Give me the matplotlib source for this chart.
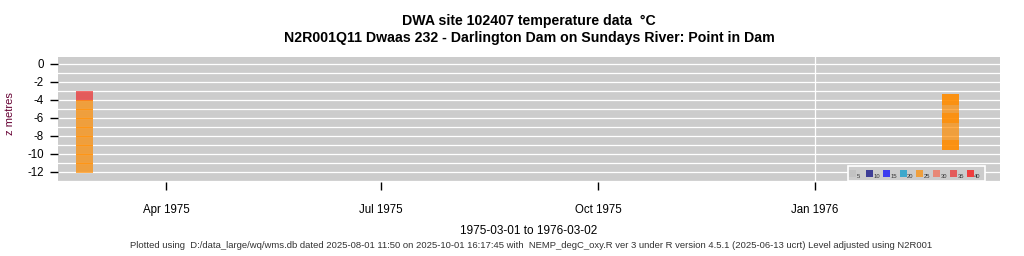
import numpy as np
import matplotlib
matplotlib.use("Agg")
import matplotlib.pyplot as plt
import matplotlib.dates as mdates
from matplotlib.patches import Rectangle
import datetime as dt

# ---------------- data ----------------
sample_dates = ["1975-03-01"] * 9 + ["1976-03-02"] * 6
layer_top = [-3.03, -4.03, -5.03, -6.03, -7.03, -8.03, -9.03, -10.03, -11.03,
             -3.4, -3.4, -5.45, -5.45, -8.45, -8.45]
layer_bottom = [-4.18, -5.18, -6.18, -7.18, -8.18, -9.18, -10.18, -11.18, -12.18,
                -5.45, -4.55, -6.55, -8.45, -9.6, -9.6]
temperature = [31, 24, 24, 24, 24, 24, 24, 24, 24,
               24, 24, 24, 24, 24, 24]

class_labels = ["5", "10", "15", "20", "25", "30", "35", "40"]
class_upper = [5, 10, 15, 20, 25, 30, 35, 40]
class_colors = ["#BEBEBE", "#000080", "#0000FF", "#009ACD",
                "#FF8C00", "#F46B54", "#EE2C2C", "#FF0000"]

y_ticks = [0, -2, -4, -6, -8, -10, -12]
x_tick_dates = ["1975-04-01", "1975-07-01", "1975-10-01", "1976-01-01"]
x_tick_labels = ["Apr 1975", "Jul 1975", "Oct 1975", "Jan 1976"]
year_lines = ["1976-01-01"]

title1 = "DWA site 102407 temperature data  \u00b0C"
title2 = "N2R001Q11 Dwaas 232 - Darlington Dam on Sundays River: Point in Dam"
subtitle = "1975-03-01 to 1976-03-02"
footer = ("Plotted using  D:/data_large/wq/wms.db dated 2025-08-01 11:50 on 2025-10-01 16:17:45 with  "
          "NEMP_degC_oxy.R ver 3 under R version 4.5.1 (2025-06-13 ucrt) Level adjusted using N2R001")

# ---------------- plot ----------------
plt.rcParams['font.family'] = ['Liberation Sans', 'DejaVu Sans']
fig = plt.figure(figsize=(10.24, 2.56), dpi=100)
ax = fig.add_axes([58 / 1024, 1 - 182 / 256, 942 / 1024, 125.3 / 256])
ax.set_facecolor("#CCCCCC")
for s in ax.spines.values():
    s.set_visible(False)

x0 = mdates.date2num(dt.datetime(1975, 2, 14))
x1 = mdates.date2num(dt.datetime(1976, 3, 19, 12))
ax.set_xlim(x0, x1)
ax.set_ylim(-13.15, 0.8)

for yv in range(0, -14, -1):
    ax.axhline(yv, color="white", lw=0.9, zorder=1)
for d in year_lines:
    ax.axvline(mdates.datestr2num(d), color="white", lw=0.9, zorder=1)

cell_days = 7.3
for d, top, bot, t in zip(sample_dates, layer_top, layer_bottom, temperature):
    idx = min(int(np.searchsorted(class_upper, t)), len(class_colors) - 1)
    xe = mdates.datestr2num(d)
    ax.add_patch(Rectangle((xe - cell_days, bot), cell_days, top - bot,
                           facecolor=class_colors[idx], alpha=0.7,
                           edgecolor="none", zorder=2))

ax.set_yticks(y_ticks)
ax.set_yticklabels([str(v) for v in y_ticks], fontsize=8.3)
ax.set_xticks([mdates.datestr2num(d) for d in x_tick_dates])
ax.set_xticklabels(x_tick_labels, fontsize=8.3)
ax.tick_params(axis="both", length=6, width=1, color="black")
ax.tick_params(axis="x", pad=10)
ax.tick_params(axis="y", pad=4)
ax.set_ylabel("z metres", fontsize=8, color="#660033")
ax.yaxis.set_label_coords(-0.0455, 0.55)

# legend (manual, axes coords)
lx0, ly0, lw, lh = 0.8388, 0.0, 0.1455, 0.125
ax.add_patch(Rectangle((lx0, ly0 + 0.005), lw, lh, transform=ax.transAxes,
                       facecolor="#CCCCCC", edgecolor="white", lw=1.2, zorder=5))
step = 16.8 / 942
sq_w = 7 / 942
sq_h = 7 / 125.3
for i, (lab, col) in enumerate(zip(class_labels, class_colors)):
    xs = lx0 + 1 / 942 + i * step
    ax.add_patch(Rectangle((xs, 5 / 125.3), sq_w, sq_h, transform=ax.transAxes,
                           facecolor=col, alpha=0.7, edgecolor="none", zorder=6))
    ax.text(xs + sq_w + 0.0005, 3.5 / 125.3, lab, transform=ax.transAxes,
            fontsize=4.2, color="#333333", va="bottom", ha="left", zorder=7)

fig.text(529 / 1024, 1 - 21 / 256, title1, ha="center", va="center",
         fontsize=10.2, fontweight="bold")
fig.text(529 / 1024, 1 - 38 / 256, title2, ha="center", va="center",
         fontsize=10.2, fontweight="bold")
fig.text(529 / 1024, 1 - 231 / 256, subtitle, ha="center", va="center", fontsize=8.5)
fig.text(531 / 1024, 1 - 246 / 256, footer, ha="center", va="center",
         fontsize=6.8, color="#333333")

fig.savefig("out.png", dpi=100)
